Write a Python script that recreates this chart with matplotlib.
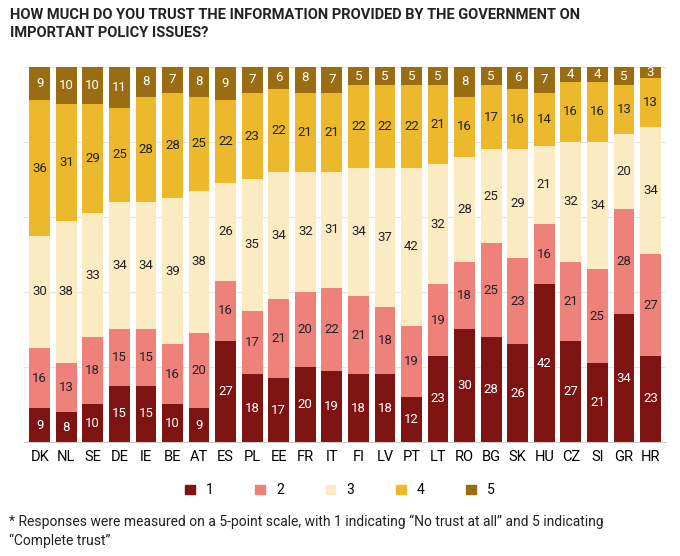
import matplotlib.pyplot as plt
import numpy as np

countries = ["DK","NL","SE","DE","IE","BE","AT","ES","PL","EE","FR","IT","FI","LV","PT","LT","RO","BG","SK","HU","CZ","SI","GR","HR"]
s1 = [9,8,10,15,15,10,9,27,18,17,20,19,18,18,12,23,30,28,26,42,27,21,34,23]
s2 = [16,13,18,15,15,16,20,16,17,21,20,22,21,18,19,19,18,25,23,16,21,25,28,27]
s3 = [30,38,33,34,34,39,38,26,35,34,32,31,34,37,42,32,28,25,29,21,32,34,20,34]
s4 = [36,31,29,25,28,28,25,22,23,22,21,21,22,22,22,21,16,17,16,14,16,16,13,13]
s5 = [9,10,10,11,8,7,8,9,7,6,8,7,5,5,5,5,8,5,6,7,4,4,5,3]
series = [s1, s2, s3, s4, s5]
names = ["1","2","3","4","5"]
colors = ["#7D1412", "#EE827A", "#FBEBC3", "#ECB82C", "#9A6D12"]
txtcol = ["white", "#222", "#222", "#222", "white"]

plt.rcParams['font.family'] = ['Roboto', 'DejaVu Sans']
fig = plt.figure(figsize=(6.8, 5.56), dpi=100)
ax = fig.add_axes([0.035, 0.205, 0.945, 0.675])
x = np.arange(len(countries))
bottom = np.zeros(len(countries))
for vals, c, tc, n in zip(series, colors, txtcol, names):
    v = np.array(vals, float)
    bars = ax.bar(x, v, bottom=bottom, color=c, width=0.78, label=n, zorder=2)
    for xi, b, val in zip(x, bottom, v):
        ax.text(xi, b + val / 2, f"{int(val)}", ha='center', va='center', fontsize=9.5, color=tc, zorder=3)
    bottom += v
ax.set_xlim(-0.6, len(countries) - 0.4)
ax.set_ylim(0, 100)
ax.set_yticks([0,20,40,60,80,100])
ax.yaxis.grid(True, color="#e6e6e6", lw=0.8, zorder=0)
ax.tick_params(axis='y', left=False, labelleft=False)
ax.tick_params(axis='x', length=0, labelsize=10.5, pad=6)
ax.set_xticks(x)
ax.set_xticklabels(countries)
for s in ax.spines.values():
    s.set_visible(False)
ax.spines['bottom'].set_visible(True)
ax.spines['bottom'].set_color("#cccccc")

fig.text(0.015, 0.985, "HOW MUCH DO YOU TRUST THE INFORMATION PROVIDED BY THE GOVERNMENT ON\nIMPORTANT POLICY ISSUES?",
         ha='left', va='top', fontsize=10.5, fontweight='bold', color="#222", linespacing=1.3)
handles = [plt.Rectangle((0,0),1,1,color=c) for c in colors]
fig.legend(handles, names, loc='center', bbox_to_anchor=(0.5, 0.118), ncol=5, frameon=False,
           handlelength=0.7, handleheight=0.7, columnspacing=3.0, fontsize=10)
fig.text(0.013, 0.075, "* Responses were measured on a 5-point scale, with 1 indicating \u201cNo trust at all\u201d and 5 indicating\n\u201cComplete trust\u201d",
         ha='left', va='top', fontsize=10, color="#222", linespacing=1.4)
fig.savefig("out.png", dpi=100)
